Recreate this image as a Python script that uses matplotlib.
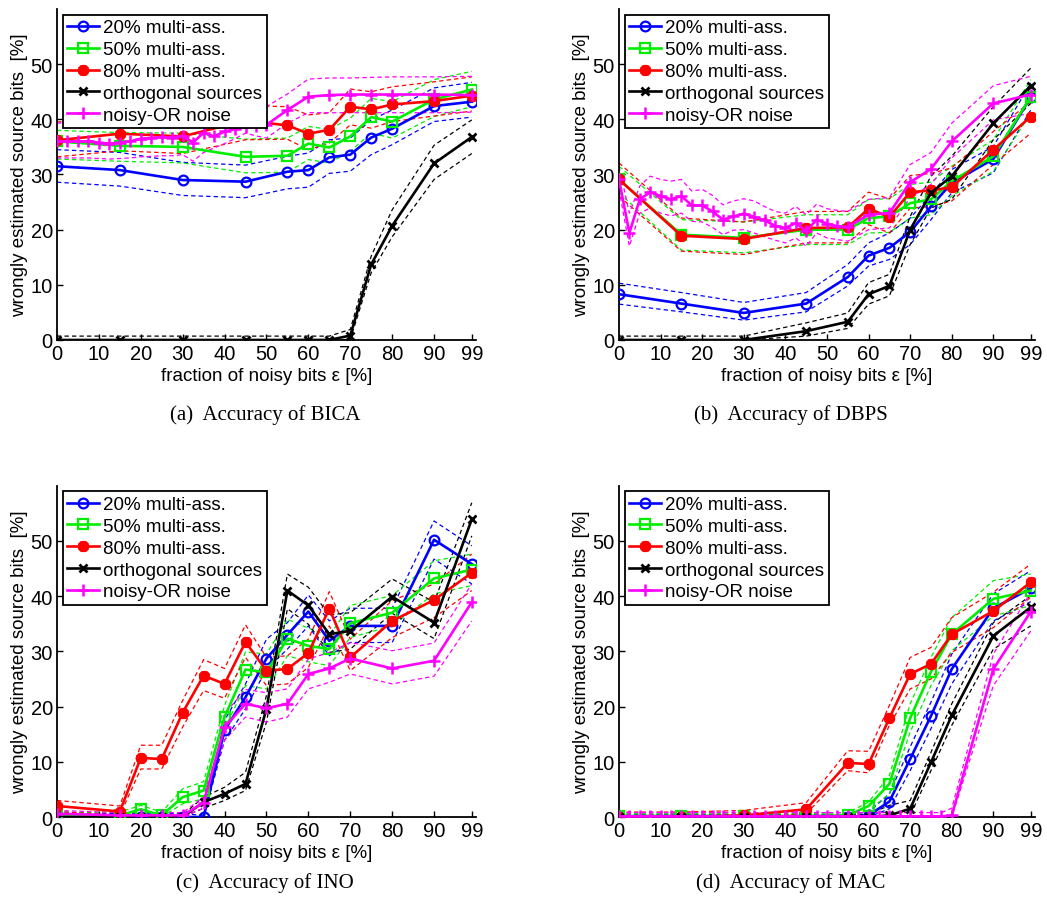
import matplotlib
matplotlib.use("Agg")
import matplotlib.pyplot as plt

# x positions (fraction of noisy bits, %)
x_std = [0, 15, 30, 45, 55, 60, 65, 70, 75, 80, 90, 99]
x_ino = [0, 15, 20, 25, 30, 35, 40, 45, 50, 55, 60, 65, 70, 80, 90, 99]
x_or_bica = [0, 2.5, 5, 7.5, 10, 12.5, 15, 17.5, 20, 22.5, 25, 27.5, 30, 32.5, 35, 37.5,
             40, 42.5, 45, 47.5, 50, 55, 60, 65, 70, 75, 80, 90, 99]
x_or_dbps = [0, 2.5, 5, 7.5, 10, 12.5, 15, 17.5, 20, 22.5, 25, 27.5, 30, 32.5, 35, 37.5,
             40, 42.5, 45, 47.5, 50, 52.5, 55, 60, 65, 70, 75, 80, 90, 99]
x_or_mac = [0, 2.5, 5, 7.5, 10, 12.5, 15, 17.5, 20, 22.5, 25, 27.5, 30, 32.5, 35, 37.5,
            40, 42.5, 45, 47.5, 50, 52.5, 55, 57.5, 60, 62.5, 65, 67.5, 70, 72.5, 75, 77.5,
            80, 90, 99]

labels = ["20% multi-ass.", "50% multi-ass.", "80% multi-ass.",
          "orthogonal sources", "noisy-OR noise"]

# (a) BICA
bica_20 = [31.5, 30.8, 29.0, 28.7, 30.5, 30.8, 33.1, 33.6, 36.7, 38.3, 42.4, 43.2]
bica_20_hi = [34.5, 34.0, 32.2, 31.7, 33.3, 33.9, 36.3, 36.6, 39.9, 41.7, 45.7, 46.7]
bica_20_lo = [28.6, 27.9, 26.2, 25.8, 27.4, 27.7, 30.2, 30.6, 33.6, 35.4, 39.6, 40.4]
bica_50 = [36.0, 35.2, 35.0, 33.2, 33.4, 35.6, 34.9, 36.9, 40.4, 39.6, 43.6, 45.4]
bica_50_hi = [38.0, 37.6, 37.5, 36.4, 36.6, 38.7, 38.2, 40.2, 43.8, 43.2, 47.2, 48.7]
bica_50_lo = [32.8, 32.4, 32.1, 30.3, 30.4, 32.7, 32.1, 34.2, 37.5, 36.6, 40.5, 42.3]
bica_80 = [36.2, 37.4, 36.9, 39.8, 38.9, 37.4, 38.1, 42.3, 41.8, 42.7, 43.3, 44.3]
bica_80_hi = [39.5, 40.5, 40.0, 42.5, 42.3, 40.8, 41.2, 45.5, 45.0, 45.9, 46.8, 47.7]
bica_80_lo = [33.2, 34.3, 33.8, 36.3, 36.4, 34.5, 35.7, 39.0, 38.4, 39.6, 40.6, 41.5]
bica_orth = [0, 0, 0, 0, 0, 0, 0, 0.8, 13.7, 20.7, 32.0, 36.8]
bica_orth_hi = [0.7, 0.7, 0.7, 0.7, 0.7, 0.7, 0.7, 1.9, 15.2, 23.6, 35.3, 39.9]
bica_orth_lo = [0, 0, 0, 0, 0, 0, 0, 0.1, 12.2, 18.7, 29.1, 33.8]
bica_or = [36.0, 36.0, 36.0, 36.0, 35.8, 35.6, 35.8, 36.0, 36.5, 36.6, 36.8, 36.7, 37.0,
           35.8, 37.6, 36.9, 37.8, 38.2, 38.6, 38.8, 39.0, 41.7, 44.1, 44.4, 44.5, 44.5,
           44.5, 44.5, 44.4]
bica_or_hi = [39.3, 39.4, 39.5, 39.6, 39.7, 39.8, 39.9, 40.0, 40.2, 40.4, 40.5, 40.6, 40.8,
              40.6, 41.0, 41.3, 41.6, 41.9, 42.3, 42.3, 42.3, 44.6, 47.3, 47.5, 47.5, 47.6,
              47.7, 47.7, 47.8]
bica_or_lo = [33.0, 33.0, 33.0, 33.0, 32.9, 32.8, 32.9, 33.0, 33.2, 33.3, 33.4, 33.4, 33.6,
              32.4, 34.0, 34.8, 35.6, 36.5, 37.5, 37.0, 36.6, 39.3, 41.2, 41.2, 41.2, 41.2,
              41.2, 41.2, 41.3]

# (b) DBPS
dbps_20 = [8.3, 6.6, 4.9, 6.6, 11.4, 15.3, 16.7, 19.6, 24.2, 28.5, 32.8, 44.1]
dbps_20_hi = [10.3, 8.6, 6.8, 8.6, 13.7, 17.6, 19.4, 22.1, 26.4, 30.9, 35.1, 46.6]
dbps_20_lo = [6.5, 5.1, 3.6, 5.1, 9.8, 13.4, 14.6, 17.3, 21.8, 26.7, 30.3, 41.7]
dbps_50 = [29.1, 19.1, 18.5, 20.0, 20.0, 22.1, 22.4, 24.8, 25.5, 28.8, 33.3, 44.1]
dbps_50_hi = [31.5, 21.8, 21.4, 22.7, 22.7, 25.5, 25.6, 28.2, 28.6, 31.5, 36.3, 47.2]
dbps_50_lo = [26.7, 16.3, 15.8, 17.3, 17.3, 19.4, 19.5, 22.1, 22.7, 26.1, 30.6, 41.1]
dbps_80 = [29.1, 18.9, 18.3, 20.3, 20.4, 23.8, 22.3, 26.8, 27.1, 27.7, 34.5, 40.5]
dbps_80_hi = [32.1, 22.1, 21.4, 23.3, 23.3, 26.8, 25.6, 29.8, 30.2, 31.2, 37.8, 43.2]
dbps_80_lo = [26.1, 16.1, 15.5, 17.6, 17.6, 20.9, 19.4, 23.9, 24.2, 25.2, 31.8, 37.5]
dbps_orth = [0, 0, 0, 1.6, 3.3, 8.3, 9.8, 20.0, 26.7, 29.7, 39.3, 46.1]
dbps_orth_hi = [0.7, 0.7, 0.7, 3.1, 4.9, 10.4, 11.9, 22.4, 29.7, 33.3, 42.3, 49.3]
dbps_orth_lo = [0, 0, 0, 0.7, 2.1, 6.5, 8.0, 17.3, 23.9, 25.5, 36.3, 42.9]
dbps_or = [29.1, 19.4, 25.5, 26.8, 26.1, 25.5, 26.1, 24.4, 24.4, 23.3, 21.8, 22.4, 22.9,
           22.3, 21.7, 20.7, 20.3, 21.2, 19.7, 21.8, 21.1, 20.6, 20.5, 22.7, 23.0, 28.6,
           31.0, 36.0, 42.9, 44.5]
dbps_or_hi = [31.5, 23.0, 27.9, 29.7, 29.1, 28.8, 29.1, 27.0, 27.3, 26.2, 24.5, 25.2, 25.6,
              25.2, 24.2, 23.3, 23.0, 24.2, 22.7, 24.6, 23.8, 23.5, 23.3, 25.5, 25.8, 31.8,
              34.0, 39.3, 46.1, 47.8]
dbps_or_lo = [27.3, 17.0, 23.0, 23.9, 23.0, 22.5, 23.0, 21.5, 21.4, 20.4, 19.1, 19.9, 20.0,
              19.4, 18.7, 18.1, 17.6, 18.5, 17.0, 19.4, 18.5, 18.2, 17.9, 20.0, 20.3, 25.8,
              28.2, 33.0, 39.9, 41.1]

# (c) INO
ino_20 = [0.3, 0, 0, 0, 0, 0, 15.7, 21.7, 28.7, 33.0, 37.2, 31.9, 34.6, 34.6, 50.2, 45.8]
ino_20_hi = [0.9, 0.6, 0.6, 0.6, 0.6, 0.3, 17.5, 24.1, 32.2, 35.2, 40.2, 35.5, 37.8, 37.8, 53.6, 49.1]
ino_20_lo = [0, 0, 0, 0, 0, 0, 13.9, 19.6, 26.8, 30.4, 34.6, 29.2, 31.6, 31.6, 46.7, 42.2]
ino_50 = [0.3, 0.3, 1.4, 0.3, 3.6, 4.8, 18.1, 26.7, 26.2, 32.3, 31.0, 30.4, 35.1, 37.0, 43.2, 44.8]
ino_50_hi = [0.8, 0.9, 2.1, 0.9, 5.1, 6.4, 20.2, 29.9, 29.5, 35.8, 34.2, 32.8, 38.3, 40.1, 46.4, 47.6]
ino_50_lo = [0, 0, 0.6, 0, 2.4, 3.3, 16.0, 23.8, 23.2, 29.2, 28.1, 27.4, 32.5, 34.6, 40.4, 41.9]
ino_80 = [2.0, 1.0, 10.7, 10.5, 18.9, 25.6, 24.1, 31.7, 26.5, 26.8, 29.7, 37.7, 28.9, 35.5, 39.3, 44.2]
ino_80_hi = [3.0, 2.0, 13.0, 13.0, 21.1, 28.5, 26.9, 34.8, 28.9, 29.2, 32.2, 40.8, 32.2, 39.2, 42.2, 47.6]
ino_80_lo = [1.0, 0.3, 8.7, 8.7, 16.3, 22.9, 21.5, 28.9, 23.8, 24.1, 27.1, 34.6, 26.5, 32.5, 36.1, 41.0]
ino_orth = [0, 0, 0, 0, 0, 2.7, 4.2, 6.0, 19.6, 41.0, 38.3, 33.1, 33.7, 39.9, 35.2, 53.9]
ino_orth_hi = [0.4, 0.4, 0.4, 0.4, 0.4, 3.6, 5.4, 8.1, 22.0, 44.0, 41.6, 36.6, 37.0, 43.1, 38.9, 56.9]
ino_orth_lo = [0, 0, 0, 0, 0, 1.6, 3.0, 4.8, 17.2, 37.7, 34.9, 29.8, 30.4, 36.9, 32.3, 50.9]
ino_or = [0.6, 0.3, 0.3, 0.3, 0.3, 2.6, 16.3, 20.5, 19.7, 20.5, 25.9, 26.9, 28.7, 26.9, 28.3, 38.9]
ino_or_hi = [1.2, 0.8, 0.8, 0.8, 0.8, 3.6, 18.7, 23.1, 22.5, 23.2, 28.6, 29.8, 31.6, 30.1, 31.5, 42.2]
ino_or_lo = [0.2, 0, 0, 0, 0, 1.6, 13.9, 18.1, 17.2, 18.1, 23.2, 24.4, 25.9, 24.1, 25.5, 35.5]

# (d) MAC
mac_20 = [0, 0, 0, 0, 0, 0.3, 2.8, 10.5, 18.3, 26.8, 37.8, 41.4]
mac_20_hi = [0.4, 0.4, 0.4, 0.4, 0.4, 0.9, 4.2, 12.7, 20.8, 29.5, 40.4, 44.6]
mac_20_lo = [0, 0, 0, 0, 0, 0, 1.5, 8.4, 16.0, 24.1, 35.5, 39.0]
mac_50 = [0.2, 0.2, 0.2, 0.2, 0.3, 2.0, 6.0, 17.9, 26.3, 33.1, 39.5, 41.0]
mac_50_hi = [0.6, 0.6, 0.6, 0.6, 0.8, 2.7, 7.5, 20.5, 28.9, 36.1, 42.8, 44.0]
mac_50_lo = [0, 0, 0, 0, 0, 1.2, 4.2, 15.4, 23.8, 30.1, 36.4, 38.3]
mac_80 = [0, 0, 0.3, 1.4, 9.8, 9.6, 17.9, 25.9, 27.7, 33.1, 37.3, 42.5]
mac_80_hi = [0.9, 0.9, 1.2, 2.6, 12.0, 11.9, 20.2, 28.9, 30.7, 36.1, 40.7, 45.8]
mac_80_lo = [0, 0, 0, 0.6, 8.4, 8.0, 16.6, 23.2, 25.0, 29.8, 34.3, 39.8]
mac_orth = [0, 0, 0, 0, 0, 0, 0.3, 1.5, 9.9, 18.4, 32.8, 38.0]
mac_orth_hi = [0.3, 0.3, 0.3, 0.3, 0.3, 0.5, 2.1, 3.0, 11.7, 20.5, 35.2, 40.1]
mac_orth_lo = [0, 0, 0, 0, 0, 0, 0, 0.3, 8.4, 16.6, 30.4, 34.6]
mac_or = [0.1, 0.1, 0.1, 0.1, 0.1, 0.1, 0.1, 0.1, 0.1, 0.1, 0.1, 0.1, 0.1, 0.1, 0.1, 0.1,
          0.1, 0.1, 0.1, 0.1, 0.1, 0.1, 0.1, 0.1, 0.1, 0.1, 0.1, 0.1, 0.1, 0.1, 0.1, 0.1,
          0.3, 26.8, 37.2]
mac_or_hi = [0.8, 0.8, 0.8, 0.8, 0.8, 0.8, 0.8, 0.8, 0.8, 0.8, 0.8, 0.8, 0.8, 0.8, 0.8, 0.8,
             0.8, 0.8, 0.8, 0.8, 0.8, 0.8, 0.8, 0.8, 0.8, 0.8, 0.8, 0.8, 0.8, 0.8, 0.8, 0.8,
             1.6, 29.5, 40.7]
mac_or_lo = [0, 0, 0, 0, 0, 0, 0, 0, 0, 0, 0, 0, 0, 0, 0, 0,
             0, 0, 0, 0, 0, 0, 0, 0, 0, 0, 0, 0, 0, 0, 0, 0,
             0, 23.8, 33.7]

styles = [
    dict(color="#0000ff", marker="o", ms=7, mfc="none", mew=1.6),
    dict(color="#00ee00", marker="s", ms=6.5, mfc="none", mew=1.6),
    dict(color="#ff0000", marker=(8, 2, 0), ms=8, mew=2.6),
    dict(color="#000000", marker="x", ms=6, mew=2),
    dict(color="#ff00ff", marker="+", ms=9, mew=1.8),
]

panels = [
    ("(a)  Accuracy of BICA", [
        (x_std, bica_20, bica_20_lo, bica_20_hi),
        (x_std, bica_50, bica_50_lo, bica_50_hi),
        (x_std, bica_80, bica_80_lo, bica_80_hi),
        (x_std, bica_orth, bica_orth_lo, bica_orth_hi),
        (x_or_bica, bica_or, bica_or_lo, bica_or_hi)]),
    ("(b)  Accuracy of DBPS", [
        (x_std, dbps_20, dbps_20_lo, dbps_20_hi),
        (x_std, dbps_50, dbps_50_lo, dbps_50_hi),
        (x_std, dbps_80, dbps_80_lo, dbps_80_hi),
        (x_std, dbps_orth, dbps_orth_lo, dbps_orth_hi),
        (x_or_dbps, dbps_or, dbps_or_lo, dbps_or_hi)]),
    ("(c)  Accuracy of INO", [
        (x_ino, ino_20, ino_20_lo, ino_20_hi),
        (x_ino, ino_50, ino_50_lo, ino_50_hi),
        (x_ino, ino_80, ino_80_lo, ino_80_hi),
        (x_ino, ino_orth, ino_orth_lo, ino_orth_hi),
        (x_ino, ino_or, ino_or_lo, ino_or_hi)]),
    ("(d)  Accuracy of MAC", [
        (x_std, mac_20, mac_20_lo, mac_20_hi),
        (x_std, mac_50, mac_50_lo, mac_50_hi),
        (x_std, mac_80, mac_80_lo, mac_80_hi),
        (x_std, mac_orth, mac_orth_lo, mac_orth_hi),
        (x_or_mac, mac_or, mac_or_lo, mac_or_hi)]),
]

plt.rcParams["font.family"] = ["Liberation Sans", "DejaVu Sans"]

fig = plt.figure(figsize=(10.47, 9.03), dpi=100)

# axes rectangles in figure fractions: left, bottom, width, height
rects = [(0.0544, 0.6224, 0.4002, 0.3665),
         (0.5912, 0.6224, 0.3973, 0.3665),
         (0.0544, 0.0941, 0.4002, 0.3670),
         (0.5912, 0.0941, 0.3973, 0.3670)]
caption_pos = [(0.253, 0.540), (0.755, 0.540), (0.253, 0.022), (0.755, 0.022)]

for (title, series), rect, cpos in zip(panels, rects, caption_pos):
    ax = fig.add_axes(rect)
    for (x, y, lo, hi), st, lab in zip(series, styles, labels):
        ax.plot(x, hi, color=st["color"], lw=0.9, ls=(0, (3.5, 2.5)), zorder=2)
        ax.plot(x, lo, color=st["color"], lw=0.9, ls=(0, (3.5, 2.5)), zorder=2)
        ax.plot(x, y, color=st["color"], lw=1.9, marker=st["marker"], ms=st["ms"],
                mfc=st.get("mfc", st["color"]), mec=st["color"], mew=st["mew"],
                label=lab, zorder=3)

    ax.set_xlim(0, 100)
    ax.set_ylim(0, 60)
    ax.set_xticks([0, 10, 20, 30, 40, 50, 60, 70, 80, 90, 99])
    ax.set_yticks([0, 10, 20, 30, 40, 50])
    ax.spines["top"].set_visible(False)
    ax.spines["right"].set_visible(False)
    ax.spines["left"].set_linewidth(1.3)
    ax.spines["bottom"].set_linewidth(1.3)
    ax.tick_params(direction="in", length=4, width=1, labelsize=14.5, pad=3)
    ax.set_xlabel("fraction of noisy bits \u03b5 [%]", fontsize=13.5, labelpad=3)
    ax.set_ylabel("wrongly estimated source bits  [%]", fontsize=13.5, labelpad=2)

    leg = ax.legend(loc="upper left", fontsize=13.5, frameon=True, fancybox=False,
                    framealpha=1, edgecolor="black", borderaxespad=0.3,
                    borderpad=0.25, labelspacing=0.25, handlelength=1.7,
                    handletextpad=0.2)
    leg.get_frame().set_linewidth(1.3)
    leg.set_zorder(10)

    fig.text(cpos[0], cpos[1], title, ha="center", va="center",
             family=["Liberation Serif", "DejaVu Serif"], fontsize=15)

fig.savefig("out.png", dpi=100)
